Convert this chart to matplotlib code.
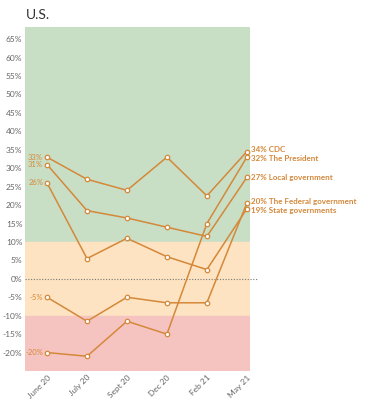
import matplotlib.pyplot as plt
import numpy as np

plt.rcParams['font.family'] = ['Lato', 'DejaVu Sans']

# data
months = ['June 20', 'July 20', 'Sept 20', 'Dec 20', 'Feb 21', 'May 21']
cdc = [33, 27, 24, 33, 22.5, 34.5]
president = [-20, -21, -11.5, -15, 15, 33]
local_gov = [31, 18.5, 16.5, 14, 11.5, 27.5]
federal_gov = [-5, -11.5, -5, -6.5, -6.5, 20.5]
state_gov = [26, 5.5, 11, 6, 2.5, 19]

series = [cdc, president, local_gov, federal_gov, state_gov]
end_labels = ['34% CDC', '32% The President', '27% Local government',
              '20% The Federal government', '19% State governments']
start_labels = ['33%', '-20%', '31%', '-5%', '26%']
# small vertical nudges so the end labels don't collide
end_nudge = [0.5, -0.4, 0, 0.5, -0.5]
yticks = np.arange(-20, 70, 5)

orange = '#D4883A'
grey = '#666666'

fig = plt.figure(figsize=(3.74, 4.0), dpi=100)
ax = fig.add_axes([0.067, 0.0725, 0.601, 0.86])

x = np.arange(len(months))
ax.set_xlim(-0.55, 5.075)
ax.set_ylim(-25, 68.3)

# background bands
ax.axhspan(10, 68.3, color='#C9DFC5', zorder=0)
ax.axhspan(-10, 10, color='#FDE3C1', zorder=0)
ax.axhspan(-25, -10, color='#F6C4C0', zorder=0)
ax.plot([-0.55, 5.25], [0, 0], ls=(0, (1, 1.5)), color='#777777', lw=0.8,
        clip_on=False, zorder=1)

for vals, lab, slab, dy in zip(series, end_labels, start_labels, end_nudge):
    ax.plot(x, vals, color=orange, lw=1.1, marker='o', ms=3.2,
            mfc='white', mec=orange, mew=0.9, zorder=3, clip_on=False)
    ax.text(x[-1] + 0.1, vals[-1] + dy, lab, color=orange, fontsize=5.8,
            fontweight='bold', va='center', ha='left')
    ax.text(x[0] - 0.1, vals[0], slab, color=orange, fontsize=5.5,
            va='center', ha='right')

ax.set_yticks(yticks)
ax.set_yticklabels([f'{v}%' for v in yticks], color=grey, fontsize=6)
ax.set_xticks(x)
ax.set_xticklabels(months, rotation=45, ha='right', rotation_mode='anchor',
                   color=grey, fontsize=6)
ax.tick_params(length=0, pad=2)
for s in ax.spines.values():
    s.set_visible(False)

fig.text(0.07, 0.962, 'U.S.', fontsize=10, color='#333333', va='center')

fig.savefig('out.png', dpi=100)
